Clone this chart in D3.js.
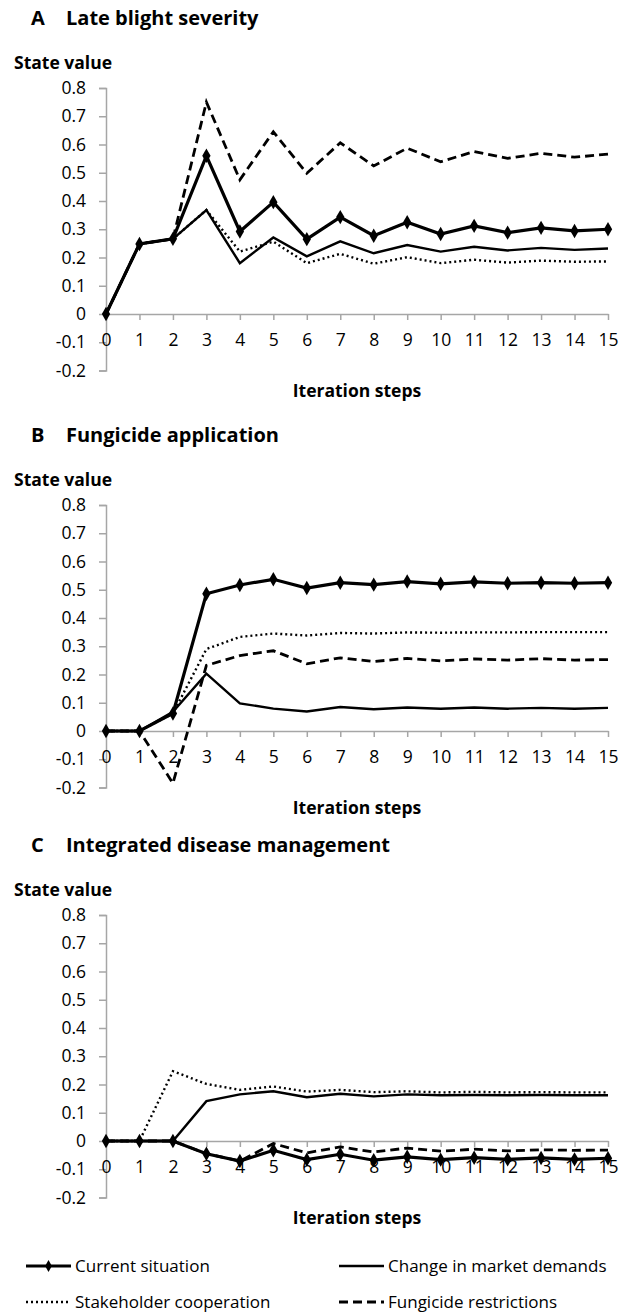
<!DOCTYPE html>
<html><head><meta charset="utf-8">
<script src="https://cdn.jsdelivr.net/npm/d3@7/dist/d3.min.js"></script>
<style>
html,body{margin:0;padding:0;background:#fff;}
svg{display:block;}
text{font-family:"Open Sans",sans-serif;fill:#000;}
</style></head>
<body>
<script>
// ---- data ----
const steps = [0,1,2,3,4,5,6,7,8,9,10,11,12,13,14,15];
const yTickValues = [0.8,0.7,0.6,0.5,0.4,0.3,0.2,0.1,0,-0.1,-0.2];
const yTickLabels = ["0.8","0.7","0.6","0.5","0.4","0.3","0.2","0.1","0","-0.1","-0.2"];
const xTickLabels = ["0","1","2","3","4","5","6","7","8","9","10","11","12","13","14","15"];
const seriesNames = ["Current situation","Change in market demands","Stakeholder cooperation","Fungicide restrictions"];
const panelLetters = ["A","B","C"];
const panelTitles = ["Late blight severity","Fungicide application","Integrated disease management"];

const currentA = [0,0.248,0.266,0.56,0.292,0.396,0.265,0.343,0.277,0.325,0.283,0.312,0.288,0.305,0.294,0.300];
const changeA  = [0,0.248,0.266,0.368,0.18,0.271,0.204,0.257,0.215,0.244,0.221,0.238,0.225,0.234,0.227,0.232];
const stakeA   = [0,0.248,0.266,0.368,0.221,0.256,0.18,0.213,0.178,0.201,0.18,0.192,0.182,0.189,0.185,0.186];
const fungA    = [0,0.248,0.266,0.75,0.475,0.645,0.498,0.606,0.524,0.587,0.539,0.575,0.551,0.569,0.555,0.566];

const currentB = [0,0,0.062,0.486,0.517,0.537,0.506,0.525,0.518,0.529,0.521,0.528,0.523,0.525,0.523,0.525];
const changeB  = [0,0,0.068,0.203,0.098,0.079,0.069,0.085,0.077,0.083,0.079,0.083,0.079,0.082,0.079,0.082];
const stakeB   = [0,0,0.062,0.29,0.333,0.345,0.338,0.347,0.345,0.349,0.348,0.349,0.349,0.35,0.35,0.35];
const fungB    = [0,0,-0.185,0.232,0.267,0.284,0.238,0.259,0.246,0.257,0.248,0.255,0.251,0.256,0.251,0.253];

const currentC = [0,0,0,-0.045,-0.071,-0.033,-0.066,-0.047,-0.068,-0.056,-0.066,-0.059,-0.065,-0.06,-0.065,-0.061];
const changeC  = [0,0,0,0.141,0.165,0.176,0.155,0.167,0.158,0.165,0.162,0.163,0.162,0.163,0.162,0.162];
const stakeC   = [0,0,0.247,0.202,0.181,0.193,0.175,0.181,0.173,0.176,0.172,0.174,0.172,0.173,0.172,0.172];
const fungC    = [0,0,0,-0.045,-0.071,-0.009,-0.042,-0.021,-0.039,-0.025,-0.036,-0.029,-0.035,-0.031,-0.033,-0.032];

const panelData = [
  [currentA, changeA, stakeA, fungA],
  [currentB, changeB, stakeB, fungB],
  [currentC, changeC, stakeC, fungC]
];

// ---- styles ----
const W = 621, H = 1315;
const panelTops = [88, 505, 915];
const plotH = 282.5;
const axisColor = "#a6a6a6";
const styles = [
  {w:3.2, dash:null,  marker:true},
  {w:2.4, dash:null,  marker:false},
  {w:2.4, dash:"2,3", marker:false},
  {w:2.8, dash:"9,5", marker:false}
];
const drawOrder = [1,2,3,0];

const svg = d3.select("body").append("svg").attr("width", W).attr("height", H);
const x = d3.scaleLinear().domain([0,15]).range([106,608]);
const diamond = d3.symbol().type(d3.symbolDiamond).size(60);

panelData.forEach((series, pi) => {
  const top = panelTops[pi];
  const y = d3.scaleLinear().domain([0.8,-0.2]).range([top, top+plotH]);
  const g = svg.append("g");

  // titles
  g.append("text").attr("x", 31).attr("y", top-70).attr("dy","0.35em")
    .style("font-weight","700").style("font-size","20px").text(panelLetters[pi]);
  g.append("text").attr("x", 66).attr("y", top-70).attr("dy","0.35em")
    .style("font-weight","700").style("font-size","20px").text(panelTitles[pi]);
  g.append("text").attr("x", 14).attr("y", top-25).attr("dy","0.35em")
    .style("font-weight","700").style("font-size","17.5px").text("State value");

  // y axis
  const yAxis = d3.axisLeft(y).tickValues(yTickValues)
    .tickFormat((d,i)=>yTickLabels[i]).tickSize(7).tickPadding(13);
  const ya = g.append("g").attr("transform",`translate(${x(0)},0)`).call(yAxis);
  ya.select(".domain").attr("stroke",axisColor).attr("stroke-width",1.5);
  ya.selectAll(".tick line").attr("stroke",axisColor).attr("stroke-width",1.5);
  ya.selectAll(".tick text").style("font-size","17.5px").style("font-family","'Open Sans',sans-serif").attr("fill","#000");

  // x axis at 0
  const xAxis = d3.axisBottom(x).tickValues(steps)
    .tickFormat((d,i)=>xTickLabels[i]).tickSize(6).tickPadding(14).tickSizeOuter(0);
  const xa = g.append("g").attr("transform",`translate(0,${y(0)})`).call(xAxis);
  xa.select(".domain").attr("stroke",axisColor).attr("stroke-width",1.5);
  xa.selectAll(".tick line").attr("stroke",axisColor).attr("stroke-width",1.5);
  xa.selectAll(".tick text").style("font-size","17.5px").style("font-family","'Open Sans',sans-serif").attr("fill","#000");

  g.append("text").attr("x", (x(0)+x(15))/2).attr("y", top+plotH+20).attr("dy","0.35em")
    .attr("text-anchor","middle").style("font-weight","700").style("font-size","17.5px").text("Iteration steps");

  // lines
  const line = d3.line().x((d,i)=>x(steps[i])).y(d=>y(d));
  drawOrder.forEach(si => {
    const st = styles[si];
    g.append("path").datum(series[si]).attr("d", line)
      .attr("fill","none").attr("stroke","#000").attr("stroke-width", st.w)
      .attr("stroke-linejoin","miter").attr("stroke-dasharray", st.dash);
    if (st.marker) {
      g.selectAll(null).data(series[si]).enter().append("path")
        .attr("d", diamond).attr("transform",(d,i)=>`translate(${x(steps[i])},${y(d)})`)
        .attr("fill","#000");
    }
  });
});

// legend
const legendPos = [[26,1266],[339,1266],[26,1302],[339,1302]];
seriesNames.forEach((name, si) => {
  const [lx, ly] = legendPos[si];
  const st = styles[si];
  const lg = svg.append("g");
  lg.append("line").attr("x1",lx).attr("x2",lx+45).attr("y1",ly).attr("y2",ly)
    .attr("stroke","#000").attr("stroke-width", st.w).attr("stroke-dasharray", st.dash);
  if (st.marker) lg.append("path").attr("d", d3.symbol().type(d3.symbolDiamond).size(40))
    .attr("transform",`translate(${lx+22.5},${ly})`).attr("fill","#000");
  lg.append("text").attr("x", lx+49).attr("y", ly).attr("dy","0.35em")
    .style("font-size","17px").text(name);
});
</script>
</body></html>
